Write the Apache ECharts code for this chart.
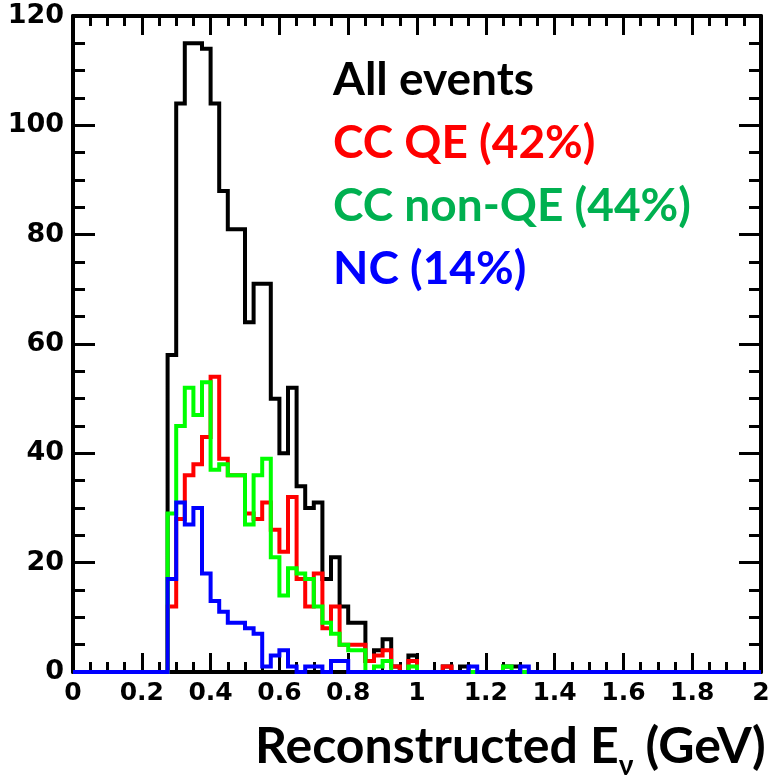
<!DOCTYPE html>
<html>
<head>
<meta charset="utf-8">
<script src="https://cdn.jsdelivr.net/npm/echarts@6/dist/echarts.min.js"></script>
<style>
html,body{margin:0;padding:0;background:#fff;}
#chart{width:784px;height:776px;}
</style>
</head>
<body>
<div id="chart"></div>
<script>
// Histogram binning: 80 bins of 0.025 GeV over [0, 2]
const binWidth = 0.025;
const xTickLabels = ['0','0.2','0.4','0.6','0.8','1','1.2','1.4','1.6','1.8','2'];
const yTickLabels = ['0','20','40','60','80','100','120'];

const seriesNames = ['All events', 'CC QE (42%)', 'CC non-QE (44%)', 'NC (14%)'];

// counts per bin (bins 0..79)
const allEvents = [
  0,0,0,0,0,0,0,0,0,0,0,
  58,104,115,115,114,104,88,81,81,64,
  71,71,50,40,52,34,30,31,17,21,
  12,9,9,2,4,6,1,0,3,0,
  0,0,1,0,1,0,0,0,0,1,
  1,0,0,0,0,0,0,0,0,0,
  0,0,0,0,0,0,0,0,0,0,
  0,0,0,0,0,0,0,0,0
];
const ccQE = [
  0,0,0,0,0,0,0,0,0,0,0,
  12,28,36,38,43,54,39,36,36,29,
  28,31,26,22,32,17,12,18,8,12,
  5,5,5,2,3,4,1,0,2,0,
  0,0,1,0,0,0,0,0,0,0,
  0,0,0,0,0,0,0,0,0,0,
  0,0,0,0,0,0,0,0,0,0,
  0,0,0,0,0,0,0,0,0
];
const ccNonQE = [
  0,0,0,0,0,0,0,0,0,0,0,
  29,45,52,47,53,37,38,36,36,27,
  36,39,21,14,19,18,17,12,9,7,
  5,4,4,0,1,2,0,0,1,0,
  0,0,0,0,0,0,0,0,0,1,
  0,0,0,0,0,0,0,0,0,0,
  0,0,0,0,0,0,0,0,0,0,
  0,0,0,0,0,0,0,0,0
];
const nc = [
  0,0,0,0,0,0,0,0,0,0,0,
  17,31,27,30,18,13,11,9,9,8,
  7,1,3,4,1,0,1,1,0,2,
  2,0,0,0,0,0,0,0,0,0,
  0,0,0,0,0,1,0,0,0,0,
  0,1,0,0,0,0,0,0,0,0,
  0,0,0,0,0,0,0,0,0,0,
  0,0,0,0,0,0,0,0,0
];

const lineColors = ['#000000', '#ff0000', '#00ff00', '#0000ff'];
const textColors = ['#000000', '#ff0000', '#00b050', '#0000ff'];

function toSteps(counts) {
  const pts = counts.map((c, i) => [+(i * binWidth).toFixed(4), c]);
  pts.push([+(counts.length * binWidth).toFixed(4), counts[counts.length - 1]]);
  return pts;
}

const chart = echarts.init(document.getElementById('chart'), null, {renderer: 'canvas'});

function xAxisCfg(pos, showLabel) {
  return {
    type: 'value', min: 0, max: 2, interval: 0.2, position: pos,
    axisLine: {show: true, onZero: false, lineStyle: {color: '#000', width: 4}},
    axisTick: {show: true, inside: true, length: 19, lineStyle: {color: '#000', width: 3}},
    minorTick: {show: true, splitNumber: 4, length: 10, lineStyle: {color: '#000', width: 3}},
    splitLine: {show: false},
    axisLabel: {show: showLabel, margin: 9, fontFamily: 'DejaVu Sans', fontWeight: 'bold', fontSize: 25, color: '#000',
      formatter: v => xTickLabels[Math.round(v / 0.2)]}
  };
}
function yAxisCfg(pos, showLabel) {
  return {
    type: 'value', min: 0, max: 120, interval: 20, position: pos,
    axisLine: {show: true, onZero: false, lineStyle: {color: '#000', width: 4}},
    axisTick: {show: true, inside: true, length: 22, lineStyle: {color: '#000', width: 3}},
    minorTick: {show: true, splitNumber: 4, length: 12, lineStyle: {color: '#000', width: 3}},
    splitLine: {show: false},
    axisLabel: {show: showLabel, margin: 9, fontFamily: 'DejaVu Sans', fontWeight: 'bold', fontSize: 27, color: '#000',
      formatter: v => yTickLabels[Math.round(v / 20)]}
  };
}

const dataSets = [allEvents, ccQE, ccNonQE, nc];

chart.setOption({
  animation: false,
  backgroundColor: '#fff',
  grid: {left: 73, right: 23, top: 16, bottom: 104, containLabel: false},
  xAxis: [xAxisCfg('bottom', true), xAxisCfg('top', false)],
  yAxis: [yAxisCfg('left', true), yAxisCfg('right', false)],
  legend: {
    orient: 'vertical', left: 323, top: 52, itemGap: 17,
    icon: 'none', itemWidth: 0, itemHeight: 0,
    selectedMode: false,
    data: seriesNames.map((n, i) => ({name: n, textStyle: {color: textColors[i]}})),
    textStyle: {fontFamily: 'Lato', fontWeight: 'bold', fontSize: 46, lineHeight: 46}
  },
  graphic: [{
    type: 'text', left: 255, top: 722,
    style: {
      text: '{t|Reconstructed E}{s|ν}{t| (GeV)}',
      rich: {
        t: {fontFamily: 'Lato', fontWeight: 'bold', fontSize: 50, lineHeight: 50, padding: [0, 0, 8, 0], verticalAlign: 'bottom', fill: '#000'},
        s: {fontFamily: 'Lato', fontWeight: 'bold', fontSize: 28, lineHeight: 26, verticalAlign: 'bottom', fill: '#000'}
      }
    }
  }],
  series: dataSets.map((d, i) => ({
    name: seriesNames[i], type: 'line', step: 'end',
    data: toSteps(d), showSymbol: false, symbol: 'none', clip: false,
    z: 2 + i,
    lineStyle: {color: lineColors[i], width: 4, join: 'miter'},
    itemStyle: {color: textColors[i]}
  }))
});
</script>
</body>
</html>
